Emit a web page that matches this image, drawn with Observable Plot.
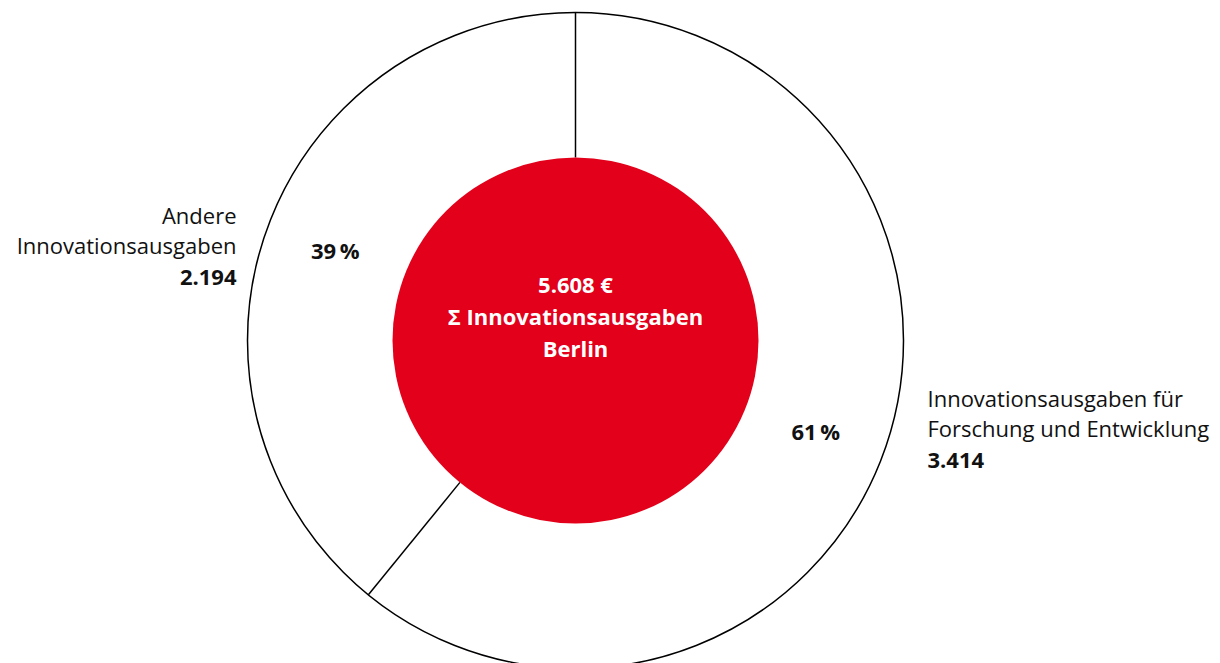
<!DOCTYPE html>
<html>
<head>
<meta charset="utf-8">
<script src="https://cdn.jsdelivr.net/npm/d3@7"></script>
<script src="https://cdn.jsdelivr.net/npm/@observablehq/plot@0.6"></script>
<style>
  html, body { margin: 0; padding: 0; background: #fff; overflow: hidden; }
  #chart svg { display: block; }
</style>
</head>
<body>
<div id="chart"></div>
<script>
// ---- data ----
const categories = ["Innovationsausgaben für\nForschung und Entwicklung", "Andere\nInnovationsausgaben"];
const values = [3414, 2194];
const valueLabels = ["3.414", "2.194"];
const totalLabel = "5.608 €";
const centerTitle = ["Σ Innovationsausgaben", "Berlin"];

// ---- layout ----
const W = 1220, H = 663;
const CX = 575, CY = 340;
const R_OUT = 328, R_IN = 183, R_PCT = 255;
const RED = "#e2001a";
const FONT = "'Open Sans', Lato, sans-serif";
const FS = 22;

const pie = d3.pie().sort(null).value(d => d)(values);
const total = d3.sum(values);
const pt = (a, r) => ({x: CX + r * Math.sin(a), y: CY - r * Math.cos(a)});

const boundaries = pie.map(p => {
  const a = pt(p.startAngle, R_IN), b = pt(p.startAngle, R_OUT);
  return {x1: a.x, y1: a.y, x2: b.x, y2: b.y};
});
const pctOffsets = [7, -3]; // small vertical nudges of the percentage labels
const pctData = pie.map((p, i) => {
  const m = pt((p.startAngle + p.endAngle) / 2, R_PCT);
  return {...m, dy: pctOffsets[i], text: Math.round(values[i] / total * 100) + "\u2009%"};
});
// outer label anchors (y = centre of first line)
const labelLayout = [
  {x: 927, y: 400, anchor: "start"},
  {x: 236, y: 217, anchor: "end"}
];
const labelData = categories.map((c, i) => ({...labelLayout[i], text: c, value: valueLabels[i]}));
const LH = 30.5;
const rightLabels = labelData.filter(d => d.anchor === "start");
const leftLabels = labelData.filter(d => d.anchor === "end");

const centerData = [{x: CX, y: CY}];
const textOpts = {fontSize: FS, fill: "#111", lineAnchor: "top", lineHeight: LH / FS};

const chart = Plot.plot({
  width: W, height: H, margin: 0,
  style: {fontFamily: FONT, background: "#fff", overflow: "hidden"},
  x: {domain: [0, W], range: [0, W], axis: null},
  y: {domain: [0, H], range: [0, H], axis: null},
  marks: [
    Plot.dot(centerData, {x: "x", y: "y", r: R_OUT, fill: "#fff", stroke: "#000", strokeWidth: 1.5}),
    Plot.link(boundaries, {x1: "x1", y1: "y1", x2: "x2", y2: "y2", stroke: "#000", strokeWidth: 1.5}),
    Plot.dot(centerData, {x: "x", y: "y", r: R_IN, fill: RED, stroke: "none"}),
    // center text
    Plot.text(centerData, {x: "x", y: "y", dy: -55, text: () => totalLabel, fill: "#fff", fontSize: FS, fontWeight: "bold"}),
    Plot.text(centerData, {x: "x", y: "y", dy: -23, text: () => centerTitle[0], fill: "#fff", fontSize: FS, fontWeight: "bold"}),
    Plot.text(centerData, {x: "x", y: "y", dy: 9, text: () => centerTitle[1], fill: "#fff", fontSize: FS, fontWeight: "bold"}),
    // percentages
    Plot.text(pctData, {x: "x", y: d => d.y + d.dy, text: "text", fontSize: FS, fontWeight: "bold", fill: "#111"}),
    // outer labels
    Plot.text(rightLabels, {x: "x", y: "y", dy: -LH / 2, text: "text", textAnchor: "start", ...textOpts}),
    Plot.text(rightLabels, {x: "x", y: "y", dy: 2 * LH - LH / 2, text: "value", textAnchor: "start", ...textOpts, fontWeight: "bold"}),
    Plot.text(leftLabels, {x: "x", y: "y", dy: -LH / 2, text: "text", textAnchor: "end", ...textOpts}),
    Plot.text(leftLabels, {x: "x", y: "y", dy: 2 * LH - LH / 2, text: "value", textAnchor: "end", ...textOpts, fontWeight: "bold"})
  ]
});
document.getElementById("chart").appendChild(chart);
</script>
</body>
</html>
